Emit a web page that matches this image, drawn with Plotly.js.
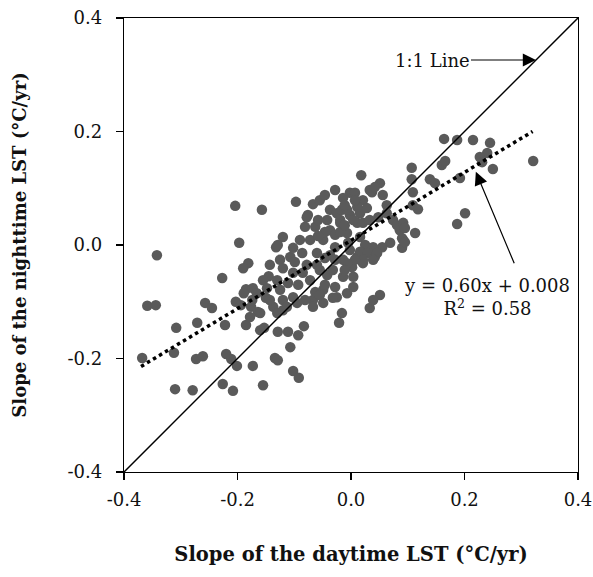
<!DOCTYPE html>
<html>
<head>
<meta charset="utf-8">
<script src="https://cdn.plot.ly/plotly-3.0.1.min.js"></script>
<style>html,body{margin:0;padding:0;background:#fff;}#chart{width:593px;height:577px;}</style>
</head>
<body>
<div id="chart"></div>
<script>
// Slope of the daytime LST (°C/yr)
const dayX = [
-0.204,-0.157,-0.197,-0.342,-0.181,-0.190,-0.227,-0.143,-0.145,-0.132,
-0.359,-0.344,-0.257,-0.245,-0.308,-0.271,-0.222,-0.185,-0.153,-0.368,
-0.312,-0.273,-0.261,-0.220,-0.211,-0.201,-0.173,-0.310,-0.279,-0.226,
-0.208,-0.155,-0.134,-0.185,-0.173,-0.189,-0.203,-0.194,-0.176,-0.164,
-0.150,-0.137,-0.129,-0.129,-0.111,-0.093,-0.083,-0.107,-0.102,-0.092,
-0.016,-0.021,0.033,-0.130,-0.120,-0.067,0.018,-0.097,-0.067,-0.076,
-0.002,-0.014,-0.037,-0.025,-0.002,0.016,-0.042,-0.019,0.011,-0.081,
-0.063,-0.037,-0.007,0.016,-0.120,-0.129,-0.090,-0.072,-0.049,-0.028,
-0.002,-0.102,-0.107,-0.086,-0.125,-0.060,-0.060,-0.042,-0.078,-0.085,
-0.102,-0.120,-0.155,-0.130,-0.111,-0.148,-0.166,-0.125,-0.143,-0.120,
-0.102,-0.160,-0.113,-0.095,-0.081,-0.063,-0.049,-0.028,-0.025,-0.007,
0.004,-0.014,0.004,-0.032,-0.014,0.011,0.021,-0.160,-0.067,-0.049,
-0.178,-0.174,0.107,0.107,0.109,0.051,0.033,0.021,0.056,0.063,
-0.016,-0.078,0.086,0.092,0.090,0.051,0.039,0.028,0.042,0.002,
-0.032,-0.055,0.139,0.148,0.160,0.166,0.192,0.109,0.118,0.187,
0.007,0.037,0.042,0.028,0.011,-0.007,-0.019,0.004,0.021,0.033,
0.048,0.063,0.074,0.081,0.092,0.090,0.113,0.095,0.069,0.055,
0.039,0.025,0.016,0.030,0.046,0.039,0.021,0.007,-0.007,-0.011,
0.164,0.187,0.215,0.245,0.240,0.227,0.231,0.250,0.201,0.095,
0.321,-0.055,-0.028,-0.046,-0.011,0.007,-0.058,-0.005,-0.028,-0.099,
-0.093,-0.072,-0.055,-0.046,-0.046,-0.019,-0.058,-0.037,-0.011,-0.028,
-0.046
];
// Slope of the nighttime LST (°C/yr)
const nightY = [
0.069,0.062,0.004,-0.018,-0.032,-0.041,-0.058,-0.035,-0.055,-0.004,
-0.107,-0.106,-0.102,-0.111,-0.146,-0.137,-0.141,-0.141,-0.146,-0.199,
-0.190,-0.201,-0.196,-0.192,-0.201,-0.213,-0.213,-0.254,-0.256,-0.245,
-0.257,-0.247,-0.199,-0.078,-0.076,-0.085,-0.100,-0.106,-0.109,-0.118,
-0.093,-0.109,-0.203,-0.153,-0.153,-0.159,-0.143,-0.180,-0.222,-0.234,
-0.120,-0.137,-0.111,-0.120,-0.115,-0.097,0.123,0.076,0.072,0.053,
0.092,0.083,0.062,0.056,0.053,0.056,0.044,0.039,0.039,0.032,
0.032,0.026,0.021,0.014,0.014,0.000,0.009,0.009,0.009,-0.004,
-0.009,-0.005,-0.021,-0.014,-0.026,-0.014,-0.035,-0.053,-0.035,-0.049,
-0.049,-0.041,-0.062,-0.062,-0.067,-0.076,-0.085,-0.079,-0.097,-0.097,
-0.092,-0.120,-0.109,-0.102,-0.097,-0.083,-0.079,-0.074,-0.092,-0.085,
-0.074,-0.056,-0.056,-0.044,-0.026,-0.021,-0.032,-0.150,-0.109,-0.102,
-0.127,-0.097,0.136,0.116,0.093,0.109,0.097,0.079,0.088,0.070,
0.062,0.049,0.026,0.009,-0.005,-0.088,-0.097,-0.005,-0.021,-0.039,
-0.093,-0.088,0.116,0.109,0.141,0.148,0.118,0.070,0.063,0.037,
0.092,0.093,0.102,0.065,0.067,0.062,0.044,0.044,0.039,0.044,
0.049,0.056,0.044,0.035,0.039,0.012,0.021,0.005,0.004,-0.004,
-0.004,0.000,-0.012,-0.014,-0.014,-0.026,-0.026,-0.026,-0.032,-0.044,
0.187,0.185,0.185,0.180,0.162,0.155,0.146,0.134,0.056,0.030,
0.148,0.079,0.097,0.023,0.070,0.079,0.044,0.004,0.018,-0.030,
-0.070,-0.062,-0.044,-0.023,0.088,0.023,0.016,-0.018,0.035,-0.026,
-0.070
];
// 1:1 reference line (axis range)
const oneToOne = [-0.4, 0.4];
// Regression: y = 0.60x + 0.008, R² = 0.58
const fitSlope = 0.60;
const fitIntercept = 0.008;
const fitXRange = [-0.37, 0.32];
const fitY = fitXRange.map(v => fitSlope * v + fitIntercept);
// Tick values and labels
const tickVals = [-0.4, -0.2, 0.0, 0.2, 0.4];
const tickText = ['-0.4', '-0.2', '0.0', '0.2', '0.4'];

const FONT = 'DejaVu Serif, Liberation Serif, serif';

const traces = [
  {
    x: dayX, y: nightY, type: 'scatter', mode: 'markers',
    marker: {size: 10.5, color: '#5a5a5a', line: {width: 0}},
    hoverinfo: 'skip', showlegend: false
  },
  {
    x: oneToOne, y: oneToOne, type: 'scatter', mode: 'lines',
    line: {color: '#000', width: 1.5}, showlegend: false, hoverinfo: 'skip'
  },
  {
    x: fitXRange, y: fitY, type: 'scatter', mode: 'lines',
    line: {color: '#000', width: 3.5, dash: 'dot'}, showlegend: false, hoverinfo: 'skip'
  }
];

const axisCommon = {
  range: [-0.4, 0.4],
  tickvals: tickVals, ticktext: tickText,
  ticks: 'outside', ticklen: 7, tickwidth: 1.3, tickcolor: '#000',
  showline: true, linecolor: '#000', linewidth: 1.3, mirror: true,
  showgrid: false, zeroline: false,
  tickfont: {family: FONT, size: 18, color: '#111'}
};

const layout = {
  width: 593, height: 577,
  margin: {l: 124, r: 15, t: 18, b: 105},
  paper_bgcolor: '#fff', plot_bgcolor: '#fff',
  showlegend: false,
  xaxis: Object.assign({}, axisCommon, {
    ticklabelstandoff: 4,
    title: {text: '<b>Slope of the daytime LST (°C/yr)</b>', font: {family: FONT, size: 19.5, color: '#111'}, standoff: 38}
  }),
  yaxis: Object.assign({}, axisCommon, {
    ticklabelstandoff: 10,
    title: {text: '<b>Slope of the nighttime LST (°C/yr)</b>', font: {family: FONT, size: 18, color: '#111'}, standoff: 36}
  }),
  annotations: [
    {
      x: 0.326, y: 0.326, xref: 'x', yref: 'y',
      text: '1:1 Line', showarrow: true, ax: -104, ay: 0,
      arrowhead: 2, arrowsize: 2.2, arrowwidth: 1.2, arrowcolor: '#000',
      font: {family: FONT, size: 18, color: '#111'}
    },
    {
      x: 0.220, y: 0.129, xref: 'x', yref: 'y',
      text: '', showarrow: true, ax: 39, ay: 93,
      arrowhead: 2, arrowsize: 2.2, arrowwidth: 1.2, arrowcolor: '#000'
    },
    {
      x: 0.240, y: -0.092, xref: 'x', yref: 'y',
      text: 'y = 0.60x + 0.008<br>R<sup>2</sup> = 0.58', showarrow: false,
      align: 'center', xanchor: 'center', yanchor: 'middle',
      font: {family: FONT, size: 18, color: '#111'}
    }
  ]
};

Plotly.newPlot('chart', traces, layout, {displayModeBar: false, staticPlot: true});
</script>
</body>
</html>
